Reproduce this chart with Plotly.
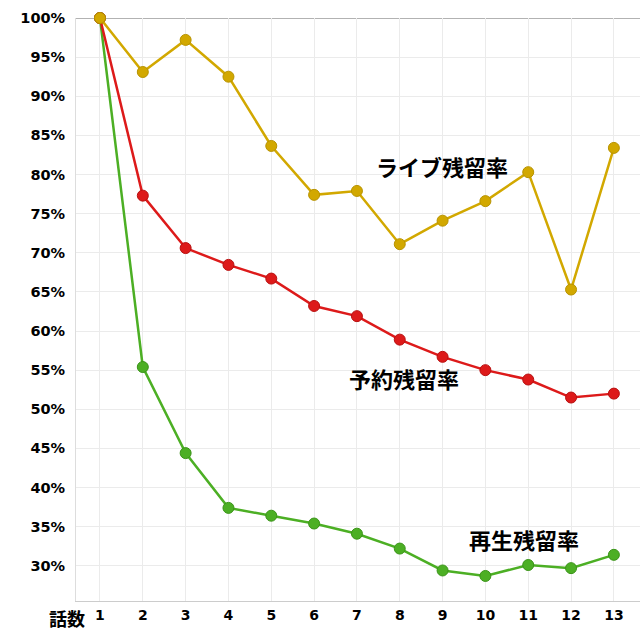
import plotly.graph_objects as go

episodes = [1, 2, 3, 4, 5, 6, 7, 8, 9, 10, 11, 12, 13]
live_rate = [100, 93.1, 97.2, 92.5, 83.65, 77.4, 77.9, 71.1, 74.1, 76.6, 80.3, 65.3, 83.4]
reserve_rate = [100, 77.3, 70.6, 68.45, 66.7, 63.2, 61.9, 58.9, 56.7, 55.0, 53.8, 51.5, 52.0]
play_rate = [100, 55.4, 44.4, 37.4, 36.4, 35.4, 34.1, 32.2, 29.4, 28.7, 30.1, 29.7, 31.4]
y_ticks = [30, 35, 40, 45, 50, 55, 60, 65, 70, 75, 80, 85, 90, 95, 100]

series = [
    ("ライブ残留率", live_rate, "#D2A800", "#B89300"),
    ("予約残留率", reserve_rate, "#DD1A1A", "#B81010"),
    ("再生残留率", play_rate, "#4CAF24", "#3A9418"),
]

fig = go.Figure()
for name, vals, col, edge in reversed(series):
    fig.add_trace(go.Scatter(
        x=episodes, y=vals, mode="lines+markers", name=name,
        line=dict(color=col, width=2.5),
        marker=dict(size=11, color=col, line=dict(color=edge, width=1)),
        cliponaxis=False, showlegend=False,
    ))

labels = [
    ("ライブ残留率", 8.98, 81.1),
    ("予約残留率", 8.1, 54.0),
    ("再生残留率", 10.9, 33.4),
]
for txt, xv, yv in labels:
    fig.add_annotation(x=xv, y=yv, text=txt, showarrow=False,
                       font=dict(family="Noto Sans CJK JP", size=22, color="#000000", weight="bold"))

fig.add_annotation(xref="paper", yref="paper", x=-0.016, y=-0.029, xanchor="center", yanchor="middle",
                   text="話数", showarrow=False,
                   font=dict(family="Noto Sans CJK JP", size=18, color="#000000", weight="bold"))

fig.add_shape(type="line", xref="paper", x0=0, x1=1, yref="y", y0=100, y1=100,
              line=dict(color="#999999", width=1.5), layer="below")

fig.update_layout(
    width=640, height=640,
    margin=dict(l=76, r=0, t=18, b=39),
    plot_bgcolor="white", paper_bgcolor="white",
    font=dict(family="DejaVu Sans", color="#000000"),
)
fig.update_xaxes(
    range=[0.44, 13.61], tickmode="array", tickvals=episodes,
    ticktext=[str(e) for e in episodes],
    showgrid=True, gridcolor="#ebebeb", gridwidth=1,
    showline=True, linecolor="#cccccc", linewidth=1,
    zeroline=False, ticks="", ticklabelstandoff=1,
    tickfont=dict(size=14, weight="bold", color="#000000"),
)
fig.update_yaxes(
    range=[25.5, 100], tickmode="array", tickvals=y_ticks,
    ticktext=[f"{v}%" for v in y_ticks],
    showgrid=True, gridcolor="#ebebeb", gridwidth=1,
    showline=True, linecolor="#dddddd", linewidth=1,
    zeroline=False, ticks="", ticklabelstandoff=7,
    tickfont=dict(size=14.5, weight="bold", color="#000000"),
)

fig.write_html("out.html")
